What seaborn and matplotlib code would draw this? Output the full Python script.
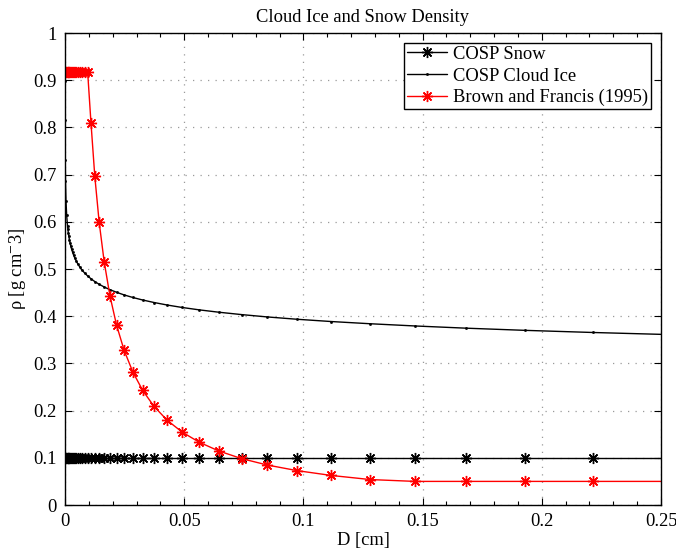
import matplotlib
matplotlib.use("Agg")
import matplotlib.pyplot as plt
from matplotlib.ticker import MultipleLocator, FuncFormatter
import seaborn as sns

# Particle maximum dimension D [cm]
diameter = [
    0.000001, 0.000005, 0.00001, 0.00003, 0.0001, 0.0002, 0.0004, 0.0007,
    0.001064, 0.001220, 0.001399, 0.001604, 0.001839, 0.002109, 0.002419,
    0.002773, 0.003180, 0.003647, 0.004182, 0.004795, 0.005498, 0.006305,
    0.007230, 0.008290, 0.009506, 0.010900, 0.012499, 0.014332, 0.016435,
    0.018846, 0.021611, 0.024781, 0.028416, 0.032584, 0.037363, 0.042843,
    0.049127, 0.056333, 0.064596, 0.074071, 0.084935, 0.097393, 0.111679,
    0.128059, 0.146843, 0.168382, 0.193080, 0.221400, 0.253880,
]

# Effective density [g cm^-3]
snow_density = [
    0.1, 0.1, 0.1, 0.1, 0.1, 0.1, 0.1, 0.1,
    0.1, 0.1, 0.1, 0.1, 0.1, 0.1, 0.1,
    0.1, 0.1, 0.1, 0.1, 0.1, 0.1, 0.1,
    0.1, 0.1, 0.1, 0.1, 0.1, 0.1, 0.1,
    0.1, 0.1, 0.1, 0.1, 0.1, 0.1, 0.1,
    0.1, 0.1, 0.1, 0.1, 0.1, 0.1, 0.1,
    0.1, 0.1, 0.1, 0.1, 0.1, 0.1,
]

ice_density = [
    0.917, 0.917, 0.899, 0.815, 0.731, 0.687, 0.645, 0.614,
    0.5909, 0.5837, 0.5766, 0.5695, 0.5625, 0.5556, 0.5488,
    0.5421, 0.5355, 0.5289, 0.5225, 0.5161, 0.5097, 0.5035,
    0.4973, 0.4912, 0.4852, 0.4793, 0.4734, 0.4676, 0.4619,
    0.4562, 0.4507, 0.4451, 0.4397, 0.4343, 0.4290, 0.4237,
    0.4185, 0.4134, 0.4084, 0.4034, 0.3984, 0.3935, 0.3887,
    0.3840, 0.3793, 0.3746, 0.3700, 0.3655, 0.3610,
]

brown_francis_density = [
    0.917, 0.917, 0.917, 0.917, 0.917, 0.917, 0.917, 0.917,
    0.917, 0.917, 0.917, 0.917, 0.917, 0.917, 0.917,
    0.917, 0.917, 0.917, 0.917, 0.917, 0.917, 0.917,
    0.917, 0.917, 0.917, 0.8095, 0.6964, 0.5990, 0.5153,
    0.4433, 0.3813, 0.3280, 0.2822, 0.2427, 0.2088, 0.1796,
    0.1545, 0.1329, 0.1143, 0.0983, 0.0846, 0.0728, 0.0626,
    0.0539, 0.05, 0.05, 0.05, 0.05, 0.05,
]

series_labels = ["COSP Snow", "COSP Cloud Ice", "Brown and Francis (1995)"]
x_ticks = [0, 0.05, 0.1, 0.15, 0.2, 0.25]
y_ticks = [0, 0.1, 0.2, 0.3, 0.4, 0.5, 0.6, 0.7, 0.8, 0.9, 1.0]

sns.set_theme(style="ticks")
plt.rcParams["font.family"] = ["Liberation Serif", "DejaVu Serif"]
plt.rcParams["mathtext.fontset"] = "stix"
plt.rcParams["text.color"] = "black"
plt.rcParams["axes.labelcolor"] = "black"
plt.rcParams["xtick.color"] = "black"
plt.rcParams["ytick.color"] = "black"

FS = 13.3
ASTERISK = (8, 2, 0)

fig = plt.figure(figsize=(6.76, 5.50), dpi=100)
ax = fig.add_axes([65 / 676, 1 - 505 / 550, (661 - 65) / 676, (505 - 33) / 550])

sns.lineplot(x=diameter, y=snow_density, ax=ax, color="black", lw=1.0,
             marker=ASTERISK, markersize=8, markeredgecolor="black",
             markeredgewidth=1.0, label=series_labels[0], sort=False)
sns.lineplot(x=diameter, y=ice_density, ax=ax, color="black", lw=1.0,
             marker=".", markersize=3, markeredgecolor="black",
             markerfacecolor="black", markeredgewidth=0.5,
             label=series_labels[1], sort=False)
sns.lineplot(x=diameter, y=brown_francis_density, ax=ax, color="#ff0000", lw=1.0,
             marker=ASTERISK, markersize=8, markeredgecolor="#ff0000",
             markeredgewidth=1.0, label=series_labels[2], sort=False)

ax.set_xlim(0, 0.25)
ax.set_ylim(0, 1)
ax.set_xticks(x_ticks)
ax.set_yticks(y_ticks)
ax.xaxis.set_minor_locator(MultipleLocator(0.01))
fmt = FuncFormatter(lambda v, _: f"{v:g}")
ax.xaxis.set_major_formatter(fmt)
ax.yaxis.set_major_formatter(fmt)

ax.tick_params(which="both", direction="in", top=True, right=True,
               colors="black", labelcolor="black", labelsize=FS, width=0.8)
ax.tick_params(which="major", length=5, pad=6)
ax.tick_params(which="minor", length=3)

ax.grid(True, which="major", color="#9a9a9a", linestyle=(0, (1, 5)), linewidth=0.9)
ax.set_axisbelow(True)
for spine in ax.spines.values():
    spine.set_color("black")
    spine.set_linewidth(1.0)
    spine.set_visible(True)

ax.set_title("Cloud Ice and Snow Density", fontsize=FS, pad=8, color="black")
ax.set_xlabel("D [cm]", fontsize=FS, labelpad=1, color="black")
ax.set_ylabel(r"ρ [g cm$^{-}$3]", fontsize=FS, labelpad=4, color="black")

leg = ax.legend(loc="upper right", fontsize=FS, frameon=True, fancybox=False,
                edgecolor="black", framealpha=1, borderaxespad=0.55,
                borderpad=0.15, labelspacing=0.25, handlelength=2.2,
                handletextpad=0.3)
leg.get_frame().set_linewidth(1.0)
for txt in leg.get_texts():
    txt.set_color("black")

fig.savefig("out.png", dpi=100)
